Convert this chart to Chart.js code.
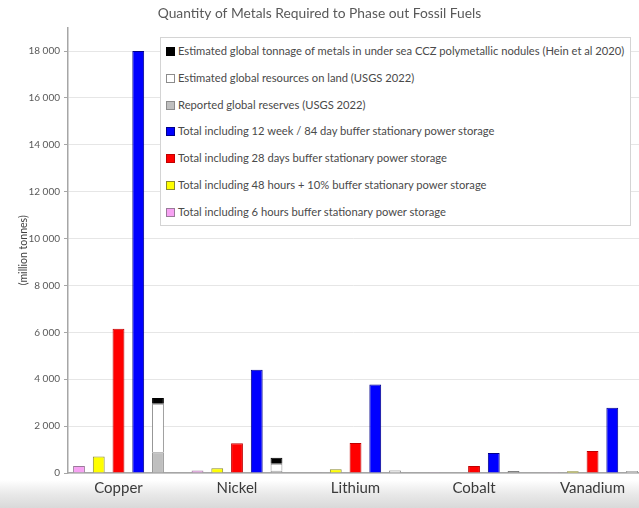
<!DOCTYPE html>
<html>
<head>
<meta charset="utf-8">
<script src="https://cdn.jsdelivr.net/npm/chart.js@4"></script>
<style>
  html, body { margin: 0; padding: 0; }
  body {
    width: 639px; height: 508px; overflow: hidden; position: relative;
    background: linear-gradient(to bottom, #ffffff 0px, #ffffff 480px, #e9e9e9 494px, #d9d9d9 508px);
    font-family: Lato, "Open Sans", sans-serif;
  }
  #wrap { position: absolute; left: 0; top: 0; width: 639px; height: 508px; }
  #legend {
    position: absolute; left: 160px; top: 37px; width: 471px; height: 189px;
    background: #fff; border: 1px solid #d4d4d4; box-sizing: border-box;
    font-size: 11.2px; color: #4a4a4a;
  }
  #legend div { height: 26.8px; line-height: 26.8px; padding-left: 5px; white-space: nowrap; }
  #legend span.box {
    display: inline-block; width: 7px; height: 7px; margin-right: 3px;
    border: 1px solid #777; vertical-align: -1px;
  }
</style>
</head>
<body>
<div id="wrap"><canvas id="metalsChart" width="639" height="508"></canvas></div>
<div id="legend"></div>
<script>
const metals = ['Copper', 'Nickel', 'Lithium', 'Cobalt', 'Vanadium'];

// million tonnes
const storage6h = [300, 110, 30, 10, 10];
const storage48h = [700, 200, 160, 25, 70];
const storage28d = [6150, 1270, 1280, 300, 940];
const storage84d = [18000, 4400, 3780, 850, 2780];
const reserves = [880, 100, 22, 8, 24];
const resourcesLand = [2070, 290, 89, 25, 63];
const nodulesCCZ = [250, 260, 3, 44, 0];

const yTicks = [0, 2000, 4000, 6000, 8000, 10000, 12000, 14000, 16000, 18000];

const toPoints = arr => arr.map((v, i) => ({ x: i, y: v }));
const fmt = v => String(v).replace(/\B(?=(\d{3})+(?!\d))/g, ' ');

const ctx = document.getElementById('metalsChart').getContext('2d');

const chart = new Chart(ctx, {
  type: 'bar',
  data: {
    datasets: [
      { label: 'Total including 6 hours buffer stationary power storage', data: toPoints(storage6h),
        backgroundColor: '#f7a2f3', borderColor: '#9a7a9a', borderWidth: 1, stack: 's6h' },
      { label: 'Total including 48 hours + 10% buffer stationary power storage', data: toPoints(storage48h),
        backgroundColor: '#ffff00', borderColor: '#8a8a30', borderWidth: 1, stack: 's48h' },
      { label: 'Total including 28 days buffer stationary power storage', data: toPoints(storage28d),
        backgroundColor: '#ff0000', borderColor: '#c00000', borderWidth: 1, stack: 's28d' },
      { label: 'Total including 12 week / 84 day buffer stationary power storage', data: toPoints(storage84d),
        backgroundColor: '#0000ff', borderColor: '#00008a', borderWidth: 1, stack: 's84d' },
      { label: 'Reported global reserves (USGS 2022)', data: toPoints(reserves),
        backgroundColor: '#bfbfbf', borderColor: '#8c8c8c', borderWidth: 1, stack: 'supply' },
      { label: 'Estimated global resources on land (USGS 2022)', data: toPoints(resourcesLand),
        backgroundColor: '#ffffff', borderColor: '#8c8c8c', borderWidth: 1, stack: 'supply' },
      { label: 'Estimated global tonnage of metals in under sea CCZ polymetallic nodules (Hein et al 2020)', data: toPoints(nodulesCCZ),
        backgroundColor: '#000000', borderColor: '#000000', borderWidth: 1, stack: 'supply' }
    ]
  },
  options: {
    responsive: false,
    animation: false,
    categoryPercentage: 0.833,
    barPercentage: 0.6,
    layout: { padding: { left: 0, right: 0, top: 0, bottom: 0 } },
    plugins: {
      legend: { display: false },
      tooltip: { enabled: false },
      title: {
        display: true,
        text: 'Quantity of Metals Required to Phase out Fossil Fuels',
        color: '#595959',
        font: { family: 'Lato', size: 13.8, weight: 'normal' },
        padding: { top: 5, bottom: 6 }
      }
    },
    scales: {
      x: {
        type: 'linear',
        stacked: true,
        offset: false,
        min: -0.426,
        max: 4.392,
        // one tick per metal
        afterBuildTicks: s => { s.ticks = metals.map((m, i) => ({ value: i })); },
        afterFit: s => { s.height = 35; },
        grid: { display: false, drawTicks: false, offset: false },
        border: { display: true, color: '#a6a6a6', width: 1.5 },
        ticks: {
          autoSkip: false,
          maxRotation: 0,
          padding: 6,
          color: '#3a3a3a',
          font: { family: 'Lato', size: 15 },
          callback: v => metals[v]
        }
      },
      y: {
        stacked: true,
        min: 0,
        max: 19000,
        afterBuildTicks: s => { s.ticks = yTicks.map(v => ({ value: v })); },
        afterFit: s => { s.width = 68; },
        grid: { color: '#e6e6e6', tickColor: '#a6a6a6', tickLength: 4 },
        border: { display: true, color: '#a6a6a6', width: 1.5 },
        ticks: {
          padding: 4,
          color: '#595959',
          font: { family: 'Lato', size: 10 },
          callback: v => fmt(v)
        },
        title: {
          display: true,
          text: '(million tonnes)',
          color: '#404040',
          font: { family: 'Lato', size: 10.5 },
          padding: { top: 17, bottom: 0 }
        }
      }
    }
  }
});

// legend box drawn as html, same order as in the original (reverse of datasets)
const legendEl = document.getElementById('legend');
chart.data.datasets.slice().reverse().forEach(ds => {
  const row = document.createElement('div');
  const box = document.createElement('span');
  box.className = 'box';
  box.style.background = ds.backgroundColor;
  box.style.borderColor = ds.borderColor;
  row.appendChild(box);
  row.appendChild(document.createTextNode(ds.label));
  legendEl.appendChild(row);
});
</script>
</body>
</html>
